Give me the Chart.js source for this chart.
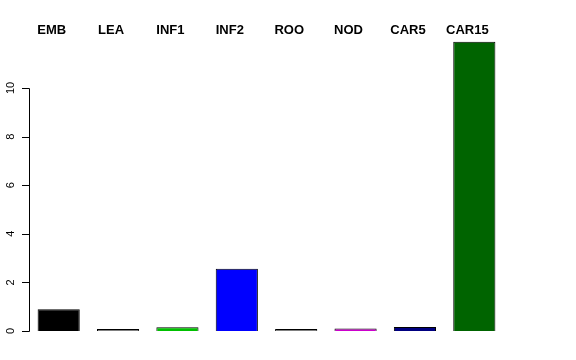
<!DOCTYPE html>
<html><head><meta charset="utf-8">
<script src="https://cdn.jsdelivr.net/npm/chart.js@4"></script>
<style>html,body{margin:0;padding:0;background:#fff}#w{width:576px;height:360px}</style>
</head><body><div id="w"><canvas id="c" width="576" height="360"></canvas></div>
<script>
const categories = ["EMB","LEA","INF1","INF2","ROO","NOD","CAR5","CAR15"];
const values = [0.9, 0.02, 0.15, 2.56, 0.02, 0.1, 0.16, 11.9];
const barColors = ["#000000","#808080","#00C000","#0000FF","#808080","#CC00CC","#000080","#006400"];
const yTicks = [0, 2, 4, 6, 8, 10];

const rAxis = {
  id: 'rAxis',
  afterDraw(chart) {
    const y = chart.scales.y, ctx = chart.ctx;
    const x0 = y.right;
    ctx.save();
    ctx.strokeStyle = '#000'; ctx.lineWidth = 1;
    ctx.beginPath();
    ctx.moveTo(x0 + 0.5, Math.round(y.getPixelForValue(yTicks[0])) + 0.5);
    ctx.lineTo(x0 + 0.5, Math.round(y.getPixelForValue(yTicks[yTicks.length-1])) + 0.5);
    yTicks.forEach(v => {
      const py = Math.round(y.getPixelForValue(v)) + 0.5;
      ctx.moveTo(x0 + 0.5, py); ctx.lineTo(x0 - 7, py);
    });
    ctx.stroke();
    ctx.fillStyle = '#000';
    ctx.font = '11px "Liberation Sans", Arial, sans-serif';
    ctx.textAlign = 'center'; ctx.textBaseline = 'middle';
    yTicks.forEach(v => {
      const py = y.getPixelForValue(v);
      ctx.save(); ctx.translate(11, py); ctx.rotate(-Math.PI/2);
      ctx.fillText(String(v), 0, 0); ctx.restore();
    });
    ctx.restore();
  }
};

new Chart(document.getElementById('c'), {
  type: 'bar',
  data: { labels: categories, datasets: [{
    data: values, backgroundColor: barColors, borderColor: '#000', borderWidth: 1,
    barPercentage: 0.71, categoryPercentage: 1.0, minBarLength: 2
  }]},
  options: {
    responsive: false, animation: false, devicePixelRatio: 1,
    layout: { padding: { left: 0, right: 72, top: 0, bottom: 29 } },
    plugins: { legend: { display: false }, tooltip: { enabled: false } },
    scales: {
      x: { position: 'top', grid: { display: false, drawTicks: false }, border: { display: false },
           ticks: { color: '#000', padding: 1, labelOffset: -7, font: { family: '"Liberation Sans", Arial, sans-serif', size: 13, weight: 'bold' }, maxRotation: 0 },
           afterFit(s) { s.height = 39.4; } },
      y: { min: 0, max: 12, grid: { display: false }, border: { display: false },
           ticks: { display: false, stepSize: 2 },
           afterFit(s) { s.width = 29; } }
    }
  },
  plugins: [rAxis]
});
</script></body></html>
